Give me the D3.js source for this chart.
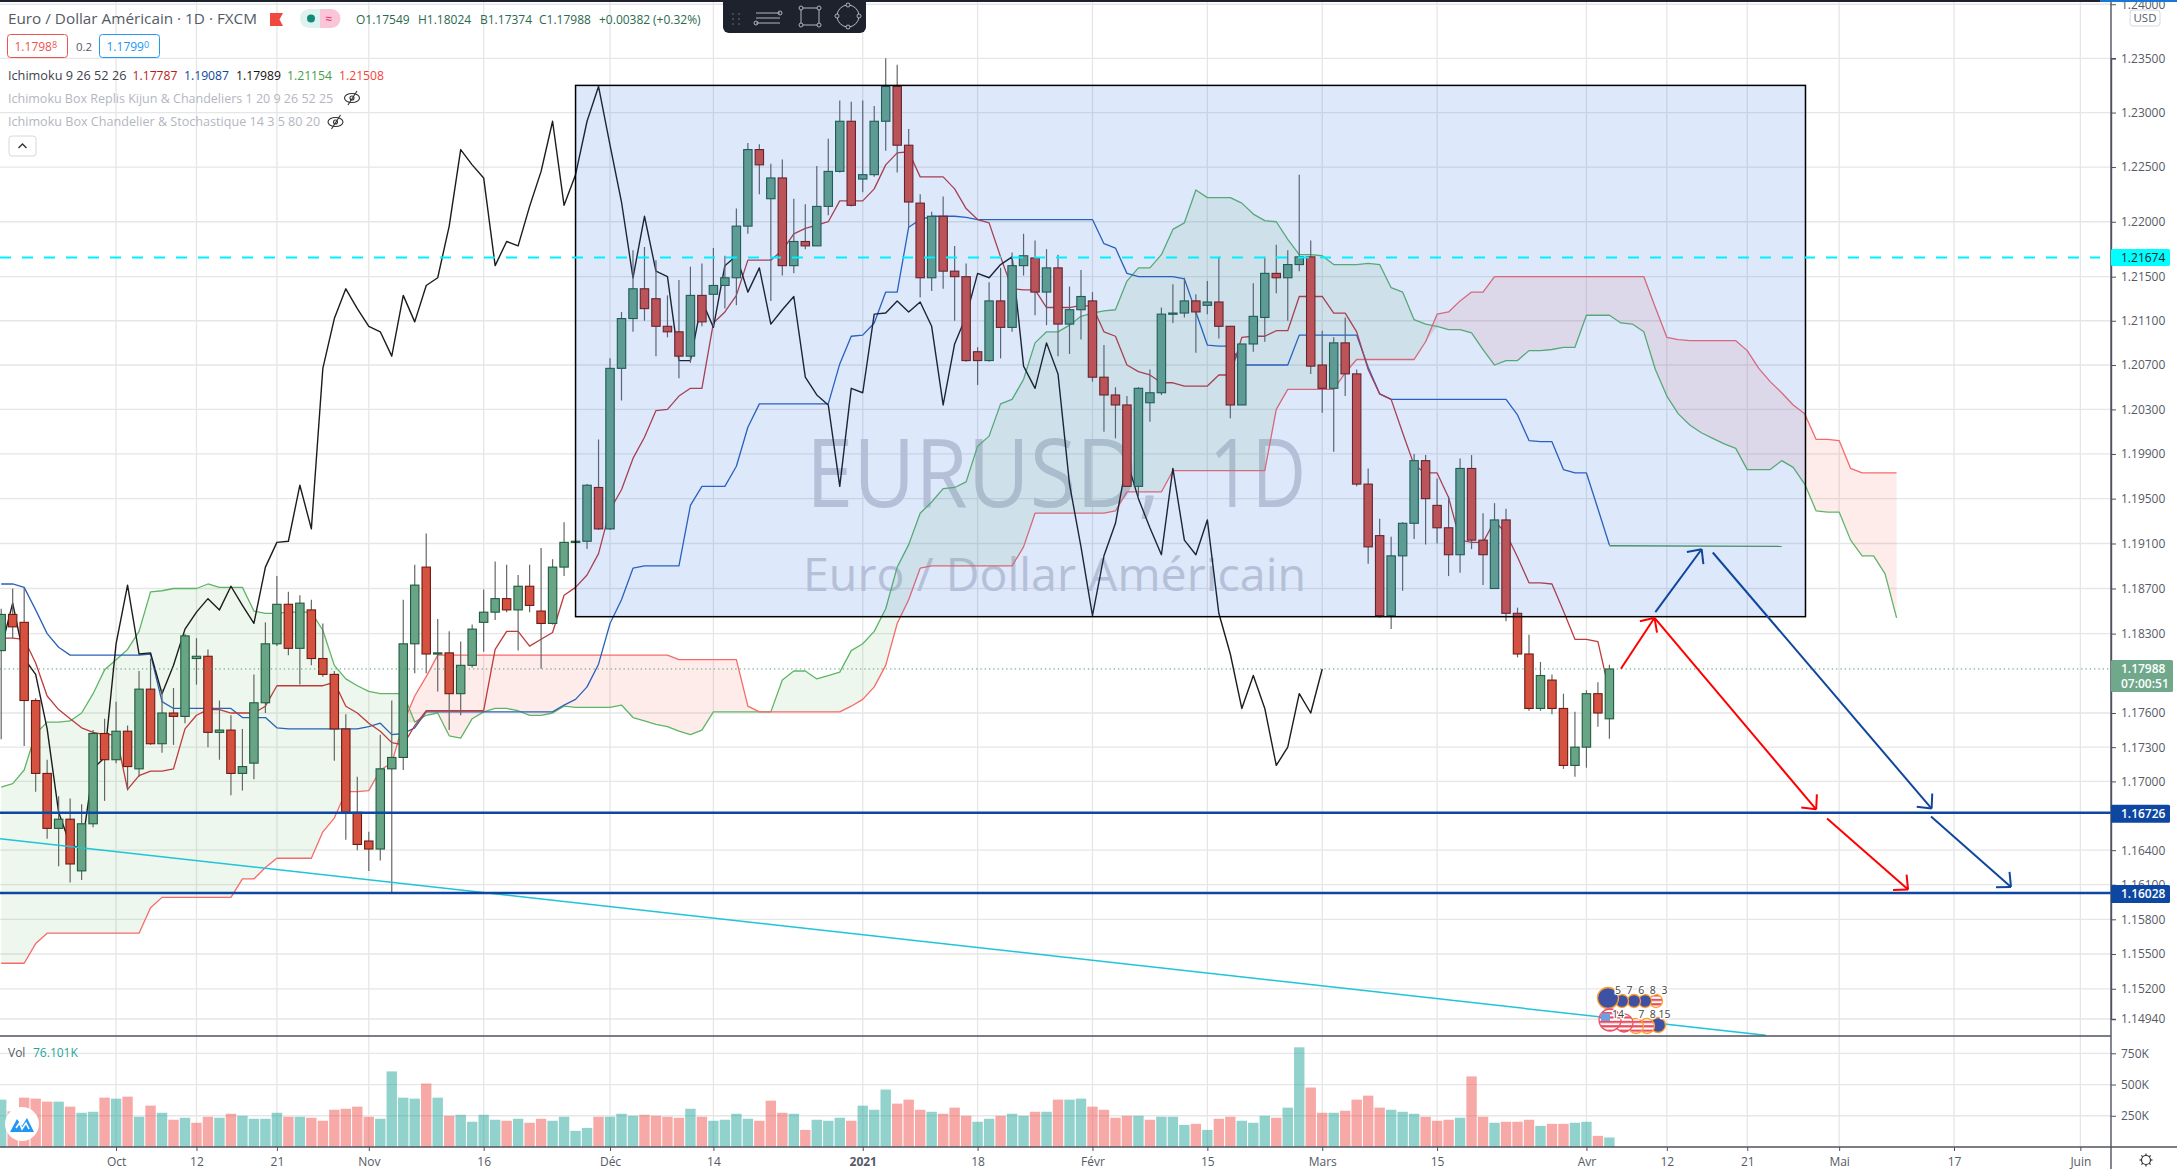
<!DOCTYPE html>
<html><head><meta charset="utf-8">
<script src="https://cdn.jsdelivr.net/npm/d3@7"></script>
<style>html,body{margin:0;padding:0;background:#fff;overflow:hidden}svg{display:block}</style>
</head><body><svg id="c" width="2177" height="1169"></svg>
<script>
const open=[1.1815,1.1847,1.1840,1.1771,1.1707,1.1659,1.1667,1.1622,1.1663,1.1742,
1.1719,1.1744,1.1711,1.1781,1.1733,1.1760,1.1757,1.1808,1.1810,1.1743,
1.1745,1.1707,1.1716,1.1769,1.1821,1.1856,1.1817,1.1851,1.1808,1.1794,
1.1746,1.1673,1.1648,1.1641,1.1711,1.1721,1.1821,1.1889,1.1812,1.1813,
1.1777,1.1802,1.1840,1.1849,1.1861,1.1851,1.1872,1.1850,1.1839,1.1889,
1.1911,1.1912,1.1960,1.1923,1.2067,1.2112,1.2139,1.2130,1.2105,1.2100,
1.2078,1.2133,1.2134,1.2142,1.2149,1.2196,1.2266,1.2221,1.2240,1.2160,
1.2182,1.2178,1.2214,1.2246,1.2292,1.2239,1.2243,1.2292,1.2324,1.2270,
1.2217,1.2149,1.2205,1.2155,1.2150,1.2082,1.2074,1.2128,1.2104,1.2160,
1.2167,1.2136,1.2158,1.2107,1.2120,1.2128,1.2059,1.2043,1.2034,1.1961,
1.2036,1.2045,1.2116,1.2117,1.2128,1.2124,1.2127,1.2105,1.2034,1.2089,
1.2113,1.2153,1.2149,1.2161,1.2168,1.2070,1.2049,1.2090,1.2062,1.1963,
1.1917,1.1846,1.1899,1.1928,1.1984,1.1944,1.1924,1.1900,1.1977,1.1913,
1.1870,1.1931,1.1848,1.1812,1.1764,1.1789,1.1764,1.1714,1.1730,1.1777,1.17549];
const high=[1.1852,1.1870,1.1871,1.1773,1.1719,1.1687,1.1685,1.1680,1.1745,1.1755,
1.1770,1.1749,1.1797,1.1808,1.1781,1.1782,1.1830,1.1826,1.1816,1.1771,
1.1758,1.1746,1.1794,1.1840,1.1881,1.1867,1.1864,1.1860,1.1839,1.1797,
1.1759,1.1704,1.1656,1.1741,1.1771,1.1860,1.1891,1.1919,1.1843,1.1832,
1.1823,1.1838,1.1869,1.1894,1.1891,1.1882,1.1891,1.1906,1.1896,1.1929,
1.1912,1.1963,1.2003,1.2076,1.2118,1.2174,1.2177,1.2165,1.2133,1.2147,
1.2159,1.2162,1.2176,1.2169,1.2212,1.2272,1.2271,1.2253,1.2257,1.2221,
1.2216,1.2251,1.2276,1.2311,1.2310,1.2311,1.2306,1.2350,1.2344,1.2285,
1.2225,1.2209,1.2223,1.2178,1.2162,1.2086,1.2145,1.2158,1.2172,1.2189,
1.2183,1.2175,1.2170,1.2141,1.2156,1.2136,1.2088,1.2050,1.2042,1.2050,
1.2066,1.2122,1.2143,1.2149,1.2134,1.2146,1.2168,1.2105,1.2089,1.2144,
1.2168,1.2179,1.2174,1.2243,1.2183,1.2101,1.2095,1.2113,1.2066,1.1977,
1.1932,1.1916,1.1929,1.1990,1.1989,1.1968,1.1952,1.1986,1.1989,1.1937,
1.1946,1.1941,1.1853,1.1829,1.1805,1.1794,1.1777,1.1761,1.1780,1.1787,1.18024];
const low=[1.1737,1.1826,1.1731,1.1691,1.1650,1.1626,1.1612,1.1614,1.1660,1.1683,
1.1716,1.1692,1.1704,1.1732,1.1725,1.1732,1.1751,1.1785,1.1730,1.1719,
1.1688,1.1692,1.1702,1.1760,1.1819,1.1811,1.1785,1.1802,1.1792,1.1718,
1.1649,1.1640,1.1622,1.1631,1.1602,1.1710,1.1795,1.1795,1.1779,1.1745,
1.1758,1.1800,1.1814,1.1842,1.1849,1.1815,1.1849,1.1799,1.1838,1.1881,
1.1911,1.1905,1.1922,1.1922,1.2038,1.2100,1.2110,1.2078,1.2095,1.2058,
1.2072,1.2105,1.2105,1.2121,1.2124,1.2189,1.2225,1.2128,1.2151,1.2153,
1.2175,1.2178,1.2206,1.2245,1.2214,1.2227,1.2241,1.2265,1.2245,1.2195,
1.2131,1.2137,1.2139,1.2110,1.2073,1.2052,1.2073,1.2076,1.2100,1.2151,
1.2115,1.2106,1.2078,1.2080,1.2093,1.2055,1.2010,1.2004,1.1961,1.1952,
1.2019,1.2043,1.2108,1.2113,1.2081,1.2116,1.2094,1.2022,1.2034,1.2082,
1.2091,1.2135,1.2110,1.2155,1.2062,1.2027,1.1992,1.2042,1.1961,1.1892,
1.1844,1.1834,1.1868,1.1914,1.1909,1.1910,1.1881,1.1884,1.1905,1.1873,
1.1870,1.1841,1.1809,1.1762,1.1762,1.1759,1.1711,1.1704,1.1712,1.1748,1.17374];
const close=[1.1847,1.1836,1.1771,1.1707,1.1659,1.1667,1.1628,1.1663,1.1742,1.1719,
1.1744,1.1713,1.1781,1.1733,1.1760,1.1757,1.1828,1.1810,1.1743,1.1745,
1.1707,1.1713,1.1769,1.1821,1.1856,1.1817,1.1857,1.1808,1.1794,1.1746,
1.1673,1.1645,1.1641,1.1711,1.1721,1.1821,1.1873,1.1812,1.1813,1.1777,
1.1802,1.1834,1.1849,1.1861,1.1851,1.1872,1.1855,1.1839,1.1889,1.1911,
1.1912,1.1962,1.1923,1.2067,1.2112,1.2139,1.2121,1.2105,1.2100,1.2078,
1.2133,1.2109,1.2142,1.2149,1.2196,1.2266,1.2252,1.2240,1.2160,1.2182,
1.2178,1.2214,1.2246,1.2292,1.2215,1.2243,1.2292,1.2324,1.2270,1.2218,
1.2149,1.2205,1.2155,1.2150,1.2074,1.2074,1.2128,1.2104,1.2160,1.2169,
1.2136,1.2158,1.2107,1.2120,1.2132,1.2059,1.2043,1.2034,1.1961,1.2049,
1.2045,1.2116,1.2117,1.2128,1.2118,1.2127,1.2105,1.2034,1.2089,1.2114,
1.2153,1.2149,1.2161,1.2168,1.2069,1.2049,1.2090,1.2062,1.1963,1.1907,
1.1846,1.1899,1.1928,1.1984,1.1950,1.1924,1.1900,1.1977,1.1913,1.1900,
1.1931,1.1848,1.1812,1.1764,1.1793,1.1764,1.1714,1.1730,1.1777,1.1760,1.17988];
const tenkan=[1.1826,1.1826,1.1825,1.1804,1.1775,1.1763,1.1755,1.1747,1.1743,1.1741,
1.1741,1.1693,1.1705,1.1709,1.1709,1.1711,1.1746,1.1758,1.1763,1.1763,
1.1760,1.1760,1.1760,1.1766,1.1784,1.1784,1.1784,1.1784,1.1784,1.1787,
1.1766,1.1760,1.1751,1.1744,1.1734,1.1732,1.1749,1.1762,1.1762,1.1762,
1.1762,1.1762,1.1762,1.1816,1.1832,1.1832,1.1819,1.1825,1.1831,1.1864,
1.1871,1.1882,1.1901,1.1940,1.1958,1.1986,1.2005,1.2029,1.2030,1.2042,
1.2049,1.2049,1.2108,1.2118,1.2133,1.2165,1.2165,1.2165,1.2174,1.2189,
1.2194,1.2197,1.2200,1.2219,1.2219,1.2219,1.2230,1.2252,1.2263,1.2264,
1.2241,1.2241,1.2241,1.2230,1.2212,1.2202,1.2199,1.2168,1.2139,1.2138,
1.2138,1.2122,1.2122,1.2122,1.2124,1.2123,1.2100,1.2096,1.2070,1.2064,
1.2061,1.2054,1.2054,1.2051,1.2051,1.2051,1.2061,1.2061,1.2095,1.2096,
1.2096,1.2101,1.2101,1.2132,1.2132,1.2132,1.2117,1.2117,1.2100,1.2066,
1.2044,1.2039,1.2009,1.1980,1.1973,1.1973,1.1951,1.1913,1.1911,1.1911,
1.1930,1.1919,1.1898,1.1875,1.1875,1.1874,1.1850,1.1825,1.1825,1.1823,1.17787];
const kijun=[1.1874,1.1874,1.1871,1.1851,1.1830,1.1818,1.1811,1.1811,1.1811,1.1811,
1.1811,1.1811,1.1811,1.1812,1.1770,1.1764,1.1764,1.1764,1.1764,1.1764,
1.1764,1.1756,1.1756,1.1756,1.1747,1.1746,1.1746,1.1746,1.1746,1.1746,
1.1746,1.1746,1.1748,1.1751,1.1741,1.1742,1.1747,1.1761,1.1761,1.1761,
1.1761,1.1761,1.1761,1.1761,1.1761,1.1761,1.1761,1.1761,1.1761,1.1767,
1.1772,1.1783,1.1803,1.1839,1.1860,1.1888,1.1890,1.1890,1.1890,1.1890,
1.1944,1.1961,1.1961,1.1961,1.1979,1.2014,1.2035,1.2035,1.2035,1.2035,
1.2035,1.2035,1.2035,1.2071,1.2096,1.2097,1.2108,1.2136,1.2136,1.2195,
1.2202,1.2205,1.2205,1.2205,1.2204,1.2202,1.2202,1.2202,1.2202,1.2202,
1.2202,1.2202,1.2202,1.2202,1.2202,1.2202,1.2180,1.2176,1.2153,1.2150,
1.2150,1.2150,1.2150,1.2148,1.2118,1.2088,1.2087,1.2087,1.2070,1.2070,
1.2070,1.2070,1.2070,1.2097,1.2097,1.2097,1.2097,1.2097,1.2097,1.2068,
1.2044,1.2039,1.2039,1.2039,1.2039,1.2039,1.2039,1.2039,1.2039,1.2039,
1.2039,1.2039,1.2025,1.2002,1.2001,1.2001,1.1976,1.1973,1.1973,1.1941,1.19087];
const spanA=[1.1695,1.1698,1.1710,1.1742,1.1752,1.1752,1.1753,1.1760,1.1777,1.1798,
1.1807,1.1816,1.1832,1.1867,1.1868,1.1870,1.1870,1.1870,1.1874,1.1871,
1.1871,1.1871,1.1850,1.1848,1.1848,1.1849,1.1849,1.1849,1.1833,1.1802,
1.1790,1.1784,1.1779,1.1777,1.1777,1.1777,1.1752,1.1758,1.1760,1.1740,
1.1738,1.1755,1.1761,1.1764,1.1764,1.1762,1.1758,1.1758,1.1760,1.1766,
1.1765,1.1765,1.1765,1.1765,1.1767,1.1756,1.1753,1.1750,1.1748,1.1744,
1.1741,1.1745,1.1761,1.1761,1.1761,1.1761,1.1761,1.1761,1.1789,1.1797,
1.1797,1.1790,1.1793,1.1796,1.1815,1.1821,1.1832,1.1852,1.1889,1.1909,
1.1937,1.1947,1.1959,1.1960,1.1965,1.1997,1.2006,1.2035,1.2039,1.2057,
1.2090,1.2100,1.2100,1.2106,1.2114,1.2117,1.2119,1.2120,1.2146,1.2158,
1.2158,1.2170,1.2193,1.2199,1.2229,1.2222,1.2222,1.2222,1.2217,1.2207,
1.2201,1.2200,1.2184,1.2170,1.2170,1.2169,1.2161,1.2161,1.2161,1.2162,
1.2161,1.2140,1.2136,1.2111,1.2107,1.2105,1.2102,1.2102,1.2099,1.2084,
1.2070,1.2074,1.2074,1.2083,1.2083,1.2084,1.2086,1.2086,1.2115,1.2115,
1.2115,1.2108,1.2107,1.2100,1.2066,1.2042,1.2026,1.2016,1.2009,1.2004,
1.1999,1.1995,1.1976,1.1976,1.1976,1.1984,1.1978,1.1963,1.1939,1.1938,
1.1938,1.1913,1.1899,1.1899,1.1883,1.1844];
const spanB=[1.1542,1.1542,1.1542,1.1559,1.1568,1.1568,1.1568,1.1568,1.1568,1.1568,
1.1568,1.1568,1.1568,1.1590,1.1599,1.1599,1.1599,1.1599,1.1599,1.1599,
1.1599,1.1615,1.1615,1.1625,1.1633,1.1633,1.1633,1.1633,1.1656,1.1668,
1.1691,1.1691,1.1692,1.1710,1.1716,1.1751,1.1775,1.1792,1.1811,1.1811,
1.1811,1.1811,1.1811,1.1811,1.1811,1.1811,1.1811,1.1811,1.1811,1.1811,
1.1811,1.1811,1.1811,1.1811,1.1811,1.1811,1.1811,1.1811,1.1811,1.1807,
1.1807,1.1807,1.1807,1.1807,1.1807,1.1766,1.1761,1.1761,1.1761,1.1761,
1.1761,1.1761,1.1761,1.1761,1.1766,1.1772,1.1783,1.1802,1.1839,1.1860,
1.1888,1.1890,1.1890,1.1890,1.1890,1.1890,1.1890,1.1890,1.1890,1.1907,
1.1937,1.1937,1.1937,1.1937,1.1937,1.1937,1.1937,1.1939,1.1956,1.1956,
1.1956,1.1956,1.1975,1.1975,1.1975,1.1975,1.1975,1.1975,1.1975,1.1975,
1.1975,1.2030,1.2048,1.2048,1.2048,1.2048,1.2048,1.2063,1.2075,1.2075,
1.2075,1.2075,1.2075,1.2075,1.2091,1.2116,1.2118,1.2128,1.2136,1.2136,
1.2150,1.2150,1.2150,1.2150,1.2150,1.2150,1.2150,1.2150,1.2150,1.2150,
1.2150,1.2150,1.2150,1.2150,1.2122,1.2095,1.2093,1.2092,1.2092,1.2092,
1.2092,1.2092,1.2083,1.2067,1.2055,1.2045,1.2034,1.2026,1.2003,1.2003,
1.2002,1.1977,1.1973,1.1973,1.1973,1.1973];
const volumeK=[379,285,395,387,363,363,323,274,282,395,
387,403,242,331,274,218,234,194,242,234,
266,250,226,226,274,242,242,234,210,298,
306,323,242,226,605,395,387,508,395,250,
258,202,258,218,210,226,194,226,210,242,
129,153,242,242,266,250,258,250,242,234,
306,242,210,218,266,226,210,371,274,266,
137,218,210,234,210,331,298,460,347,379,
298,282,266,315,250,202,226,250,266,250,
282,282,379,379,387,323,298,234,250,250,
218,242,242,177,185,137,226,242,210,194,
250,234,315,798,476,274,274,290,379,411,
315,298,282,266,242,210,218,234,565,242,
194,202,202,218,169,185,185,194,202,89,76.1];

const priceTicks=[1.24,1.235,1.23,1.225,1.22,1.215,1.211,1.207,1.203,1.199,1.195,1.191,1.187,1.183,1.176,1.173,1.17,1.164,1.161,1.158,1.155,1.152,1.1494];
const volTicks=[250,500,750];
const timeTickIndex=[10,17,24,32,42,53,62,75,85,95,105,115,125,138,145,152,160,170,181];
const timeTickLabel=["Oct","12","21","Nov","16","Déc","14","2021","18","Févr","15","Mars","15","Avr","12","21","Mai","17","Juin"];
const boxIndex=[50,157.07], boxPrice=[1.2325,1.1845];
const trendIndex=[-0.1,153.6], trendPrice=[1.1650,1.1480];
const forwardIndex=[140,155], forwardPrice=[1.1908,1.19075];
const cyanLevel=1.21674, lastClose=1.17988, navyLevels=[1.16726,1.16028];
const redArrows=[[141,1.1799,143.93,1.1844],[143.93,1.1844,158,1.16756],[158.95,1.16677,166,1.16058]];
const blueArrows=[[144,1.1849,148.03,1.19049],[149,1.1902,168.05,1.16763],[168,1.16693,174.96,1.16081]];
const eventsTop=["5","7","6","8","3"], eventsBottom=["14","","7","8","15"];

const FONT='"Open Sans",sans-serif';
const W=2177,H=1169,axisX=2111,paneBottom=1036,baseY=1147;
const x=d3.scaleLinear().domain([0,140]).range([1.2,1609.4]);
const y=d3.scaleLog().domain([1.1494,1.235]).range([1019,58.3]);
const yv=d3.scaleLinear().domain([0,750]).range([baseY,1053.3]);
const svg=d3.select("#c").style("font-family",FONT);
svg.append("rect").attr("width",W).attr("height",H).attr("fill","#fff");
const defs=svg.append("defs");
defs.append("clipPath").attr("id","top").append("rect").attr("width",axisX).attr("height",paneBottom);
defs.append("clipPath").attr("id","vol").append("rect").attr("y",paneBottom).attr("width",axisX).attr("height",baseY-paneBottom);
const stripes=defs.append("pattern").attr("id","us").attr("width",6).attr("height",4.4).attr("patternUnits","userSpaceOnUse");
stripes.append("rect").attr("width",6).attr("height",4.4).attr("fill","#fff");
stripes.append("rect").attr("width",6).attr("height",2.2).attr("fill","#ea4d5c");

const GRID="#e6e6e6";
const grid=svg.append("g").attr("stroke",GRID).attr("stroke-width",1.3);
grid.selectAll("line.v").data(timeTickIndex).join("line").attr("x1",d=>x(d)).attr("x2",d=>x(d)).attr("y1",0).attr("y2",baseY);
grid.selectAll("line.h").data(priceTicks).join("line").attr("x1",0).attr("x2",axisX).attr("y1",d=>y(d)).attr("y2",d=>y(d));
grid.selectAll("line.w").data(volTicks).join("line").attr("x1",0).attr("x2",axisX).attr("y1",d=>yv(d)).attr("y2",d=>yv(d));

const main=svg.append("g").attr("clip-path","url(#top)");
const wm=(t,xp,yp,s,w)=>main.append("text").attr("x",xp).attr("y",yp).attr("font-size",s).attr("fill","#cfd1d6").attr("textLength",w).attr("lengthAdjust","spacingAndGlyphs").text(t);
wm("EURUSD,",806,507,96,354);
wm("1D",1209,507,96,97);
wm("Euro / Dollar Américain",803,591,46,503);

const cloudIdx=d3.range(spanA.length);
main.append("path").attr("fill","rgba(76,175,80,.1)").attr("d",d3.area().x(i=>x(i)).y0(i=>y(spanA[i])).y1(i=>y(Math.min(spanA[i],spanB[i])))(cloudIdx));
main.append("path").attr("fill","rgba(244,67,54,.1)").attr("d",d3.area().x(i=>x(i)).y0(i=>y(spanB[i])).y1(i=>y(Math.min(spanA[i],spanB[i])))(cloudIdx));
const lineOf=s=>d3.line().x((_,i)=>x(i)).y(v=>y(v))(s);
const drawLine=(s,c,w=1.3)=>main.append("path").attr("d",lineOf(s)).attr("fill","none").attr("stroke",c).attr("stroke-width",w).attr("stroke-linejoin","round");
drawLine(spanA,"#5fb566");
drawLine(spanB,"#f66a6a");
drawLine(kijun,"#2a62b8");
drawLine(tenkan,"#bf3a3a");
const chikou=close.slice(25);
drawLine(chikou,"#1c1c1c",1.4);
main.append("line").attr("x1",x(forwardIndex[0])).attr("x2",x(forwardIndex[1])).attr("y1",y(forwardPrice[0])).attr("y2",y(forwardPrice[1])).attr("stroke","#4e9a55").attr("stroke-width",1.3);

const idx=d3.range(open.length);
const up=i=>close[i]>=open[i];
main.append("g").attr("stroke","#666").attr("stroke-width",1.2).selectAll("line").data(idx).join("line")
 .attr("x1",x).attr("x2",x).attr("y1",i=>y(high[i])).attr("y2",i=>y(low[i]));
main.append("g").selectAll("rect").data(idx).join("rect")
 .attr("x",i=>x(i)-4.2).attr("width",8.4)
 .attr("y",i=>y(Math.max(open[i],close[i])))
 .attr("height",i=>Math.max(1.2,Math.abs(y(open[i])-y(close[i]))))
 .attr("fill",i=>up(i)?"#68a586":"#d65240")
 .attr("stroke",i=>up(i)?"#1f5c3e":"#701a12").attr("stroke-width",1.1);

main.append("rect").attr("x",x(boxIndex[0])).attr("width",x(boxIndex[1])-x(boxIndex[0]))
 .attr("y",y(boxPrice[0])).attr("height",y(boxPrice[1])-y(boxPrice[0]))
 .attr("fill","rgba(33,102,230,.15)").attr("stroke","#000").attr("stroke-width",1.5);

main.append("line").attr("x1",0).attr("x2",axisX).attr("y1",y(lastClose)).attr("y2",y(lastClose)).attr("stroke","#4f9a74").attr("stroke-width",1).attr("stroke-dasharray","1.3 3");
main.append("line").attr("x1",x(trendIndex[0])).attr("x2",x(trendIndex[1])).attr("y1",y(trendPrice[0])).attr("y2",y(trendPrice[1])).attr("stroke","#1fc4d8").attr("stroke-width",1.5);
main.append("line").attr("x1",0).attr("x2",2100).attr("y1",y(cyanLevel)).attr("y2",y(cyanLevel)).attr("stroke","#00f0ff").attr("stroke-width",2).attr("stroke-dasharray","11 11");
main.selectAll("line.navy").data(navyLevels).join("line").attr("x1",0).attr("x2",axisX).attr("y1",d=>y(d)).attr("y2",d=>y(d)).attr("stroke","#0d47a1").attr("stroke-width",2.4);

function arrow(a,c){
  const [i0,p0,i1,p1]=a,x0=x(i0),y0=y(p0),x1=x(i1),y1=y(p1),t=Math.atan2(y1-y0,x1-x0),L=15;
  const g=main.append("g").attr("stroke",c).attr("stroke-width",2).attr("fill","none");
  g.append("line").attr("x1",x0).attr("y1",y0).attr("x2",x1).attr("y2",y1);
  [0.75,-0.75].forEach(o=>g.append("line").attr("x1",x1).attr("y1",y1).attr("x2",x1-L*Math.cos(t+o)).attr("y2",y1-L*Math.sin(t+o)));
}
redArrows.forEach(a=>arrow(a,"#ff0000"));
blueArrows.forEach(a=>arrow(a,"#0f479c"));

/* event icons */
function eventRow(labels,circles,labelY){
  const g=svg.append("g");
  circles.slice().reverse().forEach(c=>{
    g.append("circle").attr("cx",c[0]).attr("cy",c[1]).attr("r",c[2]).attr("fill",c[3]).attr("stroke",c[4]).attr("stroke-width",1.3);
  });
  g.selectAll("text").data(labels).join("text").attr("x",(d,j)=>1618+j*11.6).attr("y",labelY).attr("font-size",10.5).attr("fill","#444").attr("text-anchor","middle")
   .attr("paint-order","stroke").attr("stroke","#fff").attr("stroke-width",2.5).text(d=>d);
}
const OR="#ff9f2e",RD="#f44d6a",EU="#3f51a5",US="url(#us)";
eventRow(eventsTop,[[1608,998,10.5,EU,OR],[1622,1001,6.5,EU,OR],[1634,1001,6.5,EU,OR],[1645,1001,6.5,EU,OR],[1656,1001,6.5,US,OR]],994);
eventRow(eventsBottom,[[1610,1020,11,US,RD],[1624,1023,9,US,RD],[1636,1026,7.5,US,OR],[1647,1026,7.5,US,OR],[1658,1025,7.5,EU,OR]],1018);
svg.append("rect").attr("x",1601).attr("y",1013).attr("width",9).attr("height",8).attr("fill","#6f9fe0");

/* volume */
svg.append("g").attr("clip-path","url(#vol)").selectAll("rect").data(idx).join("rect")
 .attr("x",i=>x(i)-5.2).attr("width",10.4).attr("y",i=>yv(volumeK[i])).attr("height",i=>baseY-yv(volumeK[i]))
 .attr("fill",i=>(i===0||close[i]>=close[i-1])?"rgba(38,166,154,.5)":"rgba(239,83,80,.5)");

/* frame and axes */
const AXC="#50535e",TXT="#555a66";
svg.append("line").attr("x1",0).attr("x2",axisX).attr("y1",paneBottom).attr("y2",paneBottom).attr("stroke",AXC).attr("stroke-width",1.4);
const styleAxis=g=>{g.select(".domain").attr("stroke",AXC).attr("stroke-width",1.4);g.selectAll(".tick line").attr("stroke",AXC);g.selectAll(".tick text").attr("fill",TXT).attr("font-family",FONT).attr("font-size",12);};
svg.append("g").attr("transform",`translate(${axisX},0)`).call(d3.axisRight(y).tickValues(priceTicks).tickFormat(d3.format(".5f")).tickSize(5).tickPadding(5)).call(styleAxis);
svg.append("g").attr("transform",`translate(${axisX},0)`).call(d3.axisRight(yv).tickValues(volTicks).tickFormat(d=>d+"K").tickSize(5).tickPadding(5)).call(styleAxis).select(".domain").remove();
svg.append("line").attr("x1",axisX).attr("x2",axisX).attr("y1",0).attr("y2",H).attr("stroke",AXC).attr("stroke-width",1.4);
const xAxis=svg.append("g").attr("transform",`translate(0,${baseY})`).call(d3.axisBottom(x).tickValues(timeTickIndex).tickFormat((d,i)=>timeTickLabel[i]).tickSize(4).tickPadding(6)).call(styleAxis);
xAxis.select(".domain").remove();
xAxis.selectAll(".tick text").attr("font-weight",d=>d===75?"700":"400");
svg.append("line").attr("x1",0).attr("x2",W).attr("y1",baseY).attr("y2",baseY).attr("stroke",AXC).attr("stroke-width",1.4);

/* axis tags */
function tag(yp,h,bg,fg,lines,w=59){
  const g=svg.append("g");
  g.append("rect").attr("x",axisX).attr("y",yp-h/2).attr("width",w).attr("height",h).attr("rx",1.5).attr("fill",bg);
  lines.forEach((t,k)=>g.append("text").attr("x",axisX+10).attr("y",yp-h/2+13+k*15).attr("font-size",12).attr("font-weight",fg==="#fff"?600:400).attr("fill",fg).text(t));
}
tag(y(cyanLevel),17,"#00ffff","#222",[d3.format(".5f")(cyanLevel)]);
tag(y(lastClose)+7,32,"#6fa88a","#fff",[d3.format(".5f")(lastClose),"07:00:51"],62);
navyLevels.forEach(l=>tag(y(l)+1,18,"#0d47a1","#fff",[d3.format(".5f")(l)]));
svg.append("rect").attr("x",2130).attr("y",10).attr("width",30).attr("height",16).attr("rx",3).attr("fill","#fff").attr("stroke","#d6d8de");
svg.append("text").attr("x",2145).attr("y",22).attr("text-anchor","middle").attr("font-size",11.5).attr("fill",TXT).text("USD");

/* gear icon */
const gear=svg.append("g").attr("transform","translate(2146,1160)").attr("stroke","#333").attr("fill","none");
gear.append("circle").attr("r",4.5).attr("stroke-width",1.2);
d3.range(8).forEach(k=>{const a=k*Math.PI/4;gear.append("line").attr("x1",4.5*Math.cos(a)).attr("y1",4.5*Math.sin(a)).attr("x2",6.5*Math.cos(a)).attr("y2",6.5*Math.sin(a)).attr("stroke-width",1.2);});

/* legend */
const txt=(t,xp,yp,c,s=12.5,a)=>{const e=svg.append("text").attr("x",xp).attr("y",yp).attr("fill",c).attr("font-size",s).text(t);if(a)e.attr("text-anchor",a);return e;};
txt("Euro / Dollar Américain · 1D · FXCM",8,23.5,"#555a66",14).attr("textLength",249).attr("lengthAdjust","spacingAndGlyphs");
svg.append("path").attr("d","M270 13H283L279.5 19.5L283 26H270Z").attr("fill","#f0483e");
svg.append("rect").attr("x",300).attr("y",9).attr("width",40).attr("height",19).attr("rx",9).attr("fill","#e0f2ef");
svg.append("path").attr("d","M320 9H331A9 9 0 0 1 331 28H320Z").attr("fill","#fbc5d8");
svg.append("circle").attr("cx",311).attr("cy",18.5).attr("r",4).attr("fill","#128a78");
txt("≈",329,23,"#e91e63",12,"middle");
const ohlcColor="#2a6a4d";
[["O1.17549",356],["H1.18024",418],["B1.17374",480],["C1.17988",539],["+0.00382",599],["(+0.32%)",653]].forEach(d=>txt(d[0],d[1],23.5,ohlcColor,12));

const bid=(xp,c,t,sup)=>{svg.append("rect").attr("x",xp).attr("y",34.5).attr("width",60).attr("height",23).attr("rx",3).attr("fill","#fff").attr("stroke",c);
 const e=txt(t,xp+7,50.5,c,12);e.append("tspan").attr("font-size",9).attr("dy",-3).text(sup);};
bid(7.5,"#ef5350","1.1798","8"); bid(99.5,"#2196f3","1.1799","0");
txt("0.2",76,50.5,"#555a66",11.5);
txt("Ichimoku 9 26 52 26",8,79.5,"#3c3f4a",12.7);
[["1.17787",132.5,"#b71c1c"],["1.19087",184,"#0d47a1"],["1.17989",236,"#111"],["1.21154",287,"#43a047"],["1.21508",339,"#f44336"]].forEach(d=>txt(d[0],d[1],79.5,d[2],12.2));
txt("Ichimoku Box Replis Kijun & Chandeliers 1 20 9 26 52 25",8,102.5,"#b3b6bf",12.5);
txt("Ichimoku Box Chandelier & Stochastique 14 3 5 80 20",8,126,"#b3b6bf",12.6);
function eye(cx,cy){const g=svg.append("g").attr("transform",`translate(${cx},${cy})`).attr("fill","none").attr("stroke","#333").attr("stroke-width",1.1);
 g.append("ellipse").attr("rx",7.5).attr("ry",4.5);g.append("circle").attr("r",2);g.append("line").attr("x1",-4).attr("y1",7).attr("x2",5).attr("y2",-7);}
eye(352,98);eye(335.5,122);
svg.append("rect").attr("x",9).attr("y",136).attr("width",27).attr("height",20).attr("rx",3).attr("fill","#fff").attr("stroke","#d6d8de");
svg.append("path").attr("d","M18.5 148L22.5 144L26.5 148").attr("fill","none").attr("stroke","#333").attr("stroke-width",1.4);

txt("Vol",8,1057,"#555a66",12);
txt("76.101K",33,1057,"#26a69a",12);

/* logo */
const logo=svg.append("g").attr("transform","translate(22,1124)");
logo.append("circle").attr("r",17).attr("fill","#fff");
logo.append("path").attr("d","M-12 8 L-5 -5 L0 2 L5 -6 L12 8Z").attr("fill","#2196f3");
logo.append("path").attr("d","M-6 4 L-2.5 -1 L0 5 L4 -1 L7 5").attr("fill","none").attr("stroke","#fff").attr("stroke-width",1.6);

/* top bar and drawing toolbar */
svg.append("rect").attr("width",2100).attr("height",2).attr("fill","#1e222d");
svg.append("rect").attr("x",2100).attr("width",77).attr("height",2).attr("fill","#1976d2");
const tb=svg.append("g");
tb.append("rect").attr("x",723).attr("y",-6).attr("width",143).attr("height",39).attr("rx",6).attr("fill","#1e222d");
tb.append("g").attr("stroke","#b2b5be").attr("stroke-width",1).attr("fill","none").call(g=>{
 [13,23].forEach(v=>g.append("line").attr("x1",756).attr("x2",780).attr("y1",v).attr("y2",v));
 g.append("line").attr("x1",756).attr("x2",780).attr("y1",18).attr("y2",18);
 g.append("circle").attr("cx",780).attr("cy",13).attr("r",2);g.append("circle").attr("cx",756).attr("cy",23).attr("r",2);
 g.append("rect").attr("x",801).attr("y",8).attr("width",18).attr("height",17);
 [[801,8],[819,8],[801,25],[819,25]].forEach(p=>g.append("circle").attr("cx",p[0]).attr("cy",p[1]).attr("r",2).attr("fill","#1e222d"));
 g.append("circle").attr("cx",848).attr("cy",16).attr("r",11);
 [[848,5],[837,16],[859,16],[848,27]].forEach(p=>g.append("circle").attr("cx",p[0]).attr("cy",p[1]).attr("r",2).attr("fill","#1e222d"));
});
tb.append("g").attr("fill","#555").selectAll("circle").data([[733,14],[739,14],[733,19],[739,19],[733,24],[739,24]]).join("circle").attr("cx",d=>d[0]).attr("cy",d=>d[1]).attr("r",1);
</script></body></html>
